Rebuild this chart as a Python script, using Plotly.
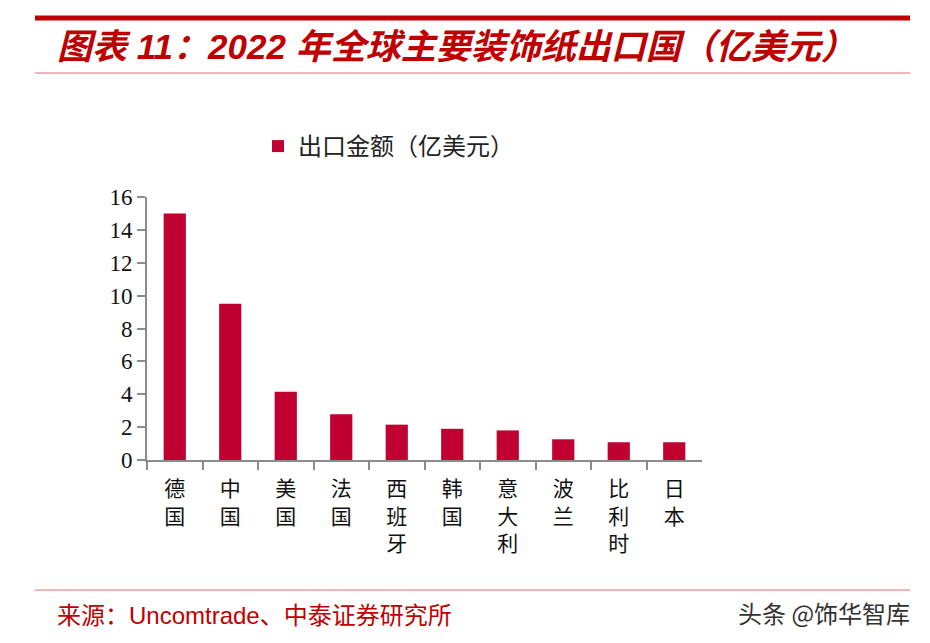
import plotly.graph_objects as go

countries = ["德国", "中国", "美国", "法国", "西班牙", "韩国", "意大利", "波兰", "比利时", "日本"]
values = [15.0, 9.5, 4.15, 2.78, 2.15, 1.9, 1.8, 1.26, 1.08, 1.08]
series_name = "出口金额（亿美元）"
title_text = "图表 11：2022 年全球主要装饰纸出口国（亿美元）"
source_text = "来源：Uncomtrade、中泰证券研究所"
watermark = "头条 @饰华智库"

W, H = 930, 643
OFF = 8  # page body margin
def px(x):
    return (x - OFF) / W
def py(y):
    return 1 - (y - OFF) / H

tick_labels = ["<br>".join(list(c)) for c in countries]

fig = go.Figure()
fig.add_trace(go.Bar(
    x=countries, y=values, name=series_name,
    marker=dict(color="#C00030", line=dict(width=0)),
    width=0.4,
))

cjk = "Noto Sans CJK SC"
fig.update_layout(
    width=W, height=H,
    margin=dict(l=0, r=0, t=0, b=0, pad=0, autoexpand=False),
    paper_bgcolor="white", plot_bgcolor="white",
    showlegend=True,
    legend=dict(
        x=px(258), y=py(124), xanchor="left", yanchor="top",
        orientation="h",
        font=dict(family=cjk, size=24, color="#222"),
        bgcolor="rgba(0,0,0,0)",
        itemwidth=30,
    ),
    xaxis=dict(
        domain=[px(147), px(702)],
        range=[-0.5, 9.5],
        tickmode="array", tickvals=countries, ticktext=tick_labels,
        tickson="boundaries",
        ticks="outside", ticklen=8, tickwidth=2, tickcolor="#8c8c8c",
        showline=True, linecolor="#8c8c8c", linewidth=2,
        showgrid=False, zeroline=False, automargin=False,
        tickfont=dict(family="Liberation Serif, " + cjk, size=21, color="#111"),
        ticklabelstandoff=9,
    ),
    yaxis=dict(
        domain=[py(460), py(197)],
        range=[0, 16], dtick=2,
        ticks="outside", ticklen=8, tickwidth=2, tickcolor="#8c8c8c",
        showline=True, linecolor="#8c8c8c", linewidth=2,
        showgrid=False, zeroline=False, automargin=False,
        tickfont=dict(family="Liberation Serif", size=23, color="#111"),
    ),
    bargap=0.6,
)

# Decorative lines
fig.add_shape(type="line", xref="paper", yref="paper",
              x0=px(35), x1=px(910), y0=py(18), y1=py(18),
              line=dict(color="#C00000", width=5))
fig.add_shape(type="line", xref="paper", yref="paper",
              x0=px(35), x1=px(910), y0=py(73), y1=py(73),
              line=dict(color="#E07070", width=1.2))
fig.add_shape(type="line", xref="paper", yref="paper",
              x0=px(35), x1=px(910), y0=py(590), y1=py(590),
              line=dict(color="#E07070", width=1.2))

fig.add_annotation(
    text="<b><i>" + title_text + "</i></b>",
    xref="paper", yref="paper", x=px(55), y=py(47),
    xanchor="left", yanchor="middle", showarrow=False,
    font=dict(family="Liberation Sans, " + cjk, size=35, color="#C00000"),
)
fig.add_annotation(
    text=source_text,
    xref="paper", yref="paper", x=px(55), y=py(615),
    xanchor="left", yanchor="middle", showarrow=False,
    font=dict(family="Liberation Sans, " + cjk, size=24, color="#C00000"),
)
fig.add_annotation(
    text=watermark,
    xref="paper", yref="paper", x=px(912), y=py(612),
    xanchor="right", yanchor="middle", showarrow=False,
    font=dict(family=cjk, size=24, color="#333"),
)

fig.write_html("out.html")
